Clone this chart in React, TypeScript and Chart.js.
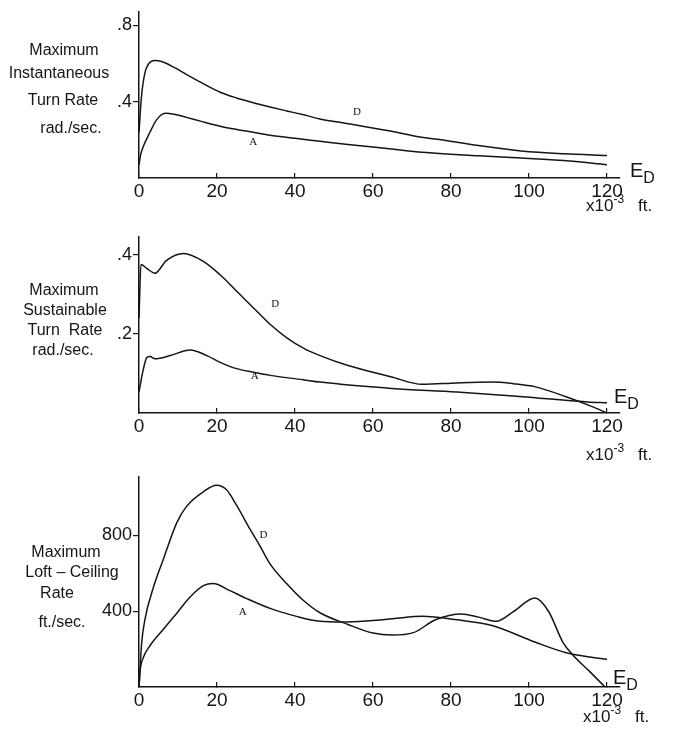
import React, { useEffect, useRef } from "react";
import { Chart, registerables } from "chart.js";
Chart.register(...registerables);

// ---------- shared axis values ----------
const xTickValues = [0, 20, 40, 60, 80, 100, 120];

// ---------- Chart 1: Maximum Instantaneous Turn Rate (rad./sec.) ----------
const instYTicks = [0.4, 0.8];
const instD_x = [0, 0.6, 1.5, 2.5, 4, 6, 9, 12, 16, 20.8, 25, 29.3, 33.6, 37.9, 42.5, 46.4, 53.6, 64.8, 72, 76, 87, 98, 109, 120];
const instD_y = [0.24, 0.42, 0.55, 0.6, 0.617, 0.61, 0.58, 0.545, 0.5, 0.45, 0.42, 0.395, 0.373, 0.352, 0.33, 0.31, 0.285, 0.245, 0.215, 0.205, 0.17, 0.142, 0.127, 0.118];
const instA_x = [0, 0.4, 1.1, 2.8, 4.5, 6.7, 9, 12.2, 16, 20.8, 25, 29.3, 33.6, 40, 46.4, 53.6, 64.8, 72.6, 87, 98, 109, 120];
const instA_y = [0.07, 0.12, 0.165, 0.24, 0.305, 0.34, 0.335, 0.318, 0.297, 0.272, 0.255, 0.24, 0.224, 0.208, 0.193, 0.176, 0.152, 0.135, 0.117, 0.105, 0.092, 0.07];

// ---------- Chart 2: Maximum Sustainable Turn Rate (rad./sec.) ----------
const sustYTicks = [0.2, 0.4];
const sustD_x = [0, 0.5, 2, 4.1, 7, 11.4, 16.5, 20.8, 25, 29.3, 33.6, 37.9, 42.5, 46.4, 53.6, 64.8, 72.6, 81.5, 90.5, 96, 101.7, 109.5, 116.2, 120];
const sustD_y = [0.24, 0.375, 0.365, 0.353, 0.385, 0.403, 0.383, 0.349, 0.308, 0.266, 0.224, 0.19, 0.162, 0.145, 0.12, 0.091, 0.0725, 0.076, 0.078, 0.074, 0.066, 0.041, 0.016, 0.0];
const sustA_x = [0, 1.1, 2, 2.8, 4.1, 8, 13.1, 17.4, 20.8, 25, 29.3, 33.6, 42.1, 46.4, 64.8, 81.5, 98.3, 115, 120];
const sustA_y = [0.053, 0.11, 0.14, 0.143, 0.137, 0.145, 0.159, 0.145, 0.128, 0.112, 0.103, 0.095, 0.084, 0.078, 0.062, 0.053, 0.041, 0.028, 0.026];

// ---------- Chart 3: Maximum Loft-Ceiling Rate (ft./sec.) ----------
const loftYTicks = [400, 800];
const loftD_x = [0, 0.7, 1.5, 3.7, 6.2, 9.7, 12.2, 16.5, 19.9, 22.5, 25, 28.5, 31, 33.6, 37.9, 42.1, 46.4, 53.6, 60, 64.8, 70.4, 76, 82.7, 87.1, 91.6, 96, 101.5, 105, 108.7, 111.3, 115.4, 119.5];
const loftD_y = [0, 236, 355, 527, 672, 868, 954, 1031, 1065, 1040, 960, 832, 745, 650, 545, 458, 392, 330, 285, 274, 287, 355, 386, 369, 347, 398, 470, 400, 236, 168, 85, 0];
const loftA_x = [0, 0.3, 1, 2.8, 6.2, 9.7, 13.1, 16.5, 19, 23.3, 27.6, 33.6, 40.4, 46.4, 52, 59.2, 65, 72.6, 81.5, 90.5, 101.7, 109.5, 115, 120];
const loftA_y = [0, 90, 150, 218, 304, 390, 475, 535, 547, 509, 467, 415, 373, 347, 343, 350, 360, 373, 355, 325, 236, 181, 160, 147];

// curve letters (data coordinates)
const instLetters = [{ t: "D", x: 55.9, y: 0.344 }, { t: "A", x: 29.3, y: 0.19 }];
const sustLetters = [{ t: "D", x: 34.9, y: 0.276 }, { t: "A", x: 29.7, y: 0.093 }];
const loftLetters = [{ t: "D", x: 31.9, y: 800 }, { t: "A", x: 26.6, y: 398 }];

const INK = "#151515";
const FONT = "'Liberation Sans', Arial, sans-serif";

const letterPlugin = {
  id: "curveLetters",
  afterDatasetsDraw(chart: any, _args: any, opts: any) {
    const { ctx, scales } = chart;
    const xs = scales.x, ys = scales.y;
    ctx.save();
    ctx.font = "11px 'Liberation Serif', serif";
    ctx.fillStyle = INK;
    ctx.textAlign = "center";
    ctx.textBaseline = "middle";
    (opts.items || []).forEach((it: any) => {
      ctx.fillText(it.t, xs.getPixelForValue(it.x), ys.getPixelForValue(it.y));
    });
    ctx.restore();
  },
};

function zip(xs: number[], ys: number[]) {
  return xs.map((x, i) => ({ x, y: ys[i] }));
}

type Panel = {
  top: number;
  height: number;
  areaTop: number;
  areaBottom: number;
  yMax: number;
  yTicks: number[];
  fmt: (v: number) => string;
  series: { x: number[]; y: number[] }[];
  letters: { t: string; x: number; y: number }[];
};

const AXIS_LEFT = 139;
const AXIS_RIGHT = 620;
const X120 = 607;
const xMax = (120 * (AXIS_RIGHT - AXIS_LEFT)) / (X120 - AXIS_LEFT);

const panels: Panel[] = [
  {
    top: 0, height: 215, areaTop: 7, areaBottom: 178, yMax: 0.872,
    yTicks: instYTicks, fmt: (v) => "." + Math.round(v * 10),
    series: [{ x: instD_x, y: instD_y }, { x: instA_x, y: instA_y }],
    letters: instLetters,
  },
  {
    top: 225, height: 240, areaTop: 235, areaBottom: 413, yMax: 0.445,
    yTicks: sustYTicks, fmt: (v) => "." + Math.round(v * 10),
    series: [{ x: sustD_x, y: sustD_y }, { x: sustA_x, y: sustA_y }],
    letters: sustLetters,
  },
  {
    top: 465, height: 266, areaTop: 470, areaBottom: 687, yMax: 1110,
    yTicks: loftYTicks, fmt: (v) => String(v),
    series: [{ x: loftD_x, y: loftD_y }, { x: loftA_x, y: loftA_y }],
    letters: loftLetters,
  },
];

function PanelChart({ p }: { p: Panel }) {
  const ref = useRef<HTMLCanvasElement | null>(null);
  useEffect(() => {
    if (!ref.current) return;
    const chart = new Chart(ref.current, {
      type: "line",
      data: {
        datasets: p.series.map((s) => ({
          data: zip(s.x, s.y),
          borderColor: INK,
          borderWidth: 1.5,
          pointRadius: 0,
          fill: false,
          cubicInterpolationMode: "monotone" as const,
        })),
      },
      plugins: [letterPlugin],
      options: {
        animation: false,
        responsive: false,
        devicePixelRatio: 1,
        layout: { padding: { top: p.areaTop - p.top, right: 674 - AXIS_RIGHT, left: 0, bottom: 0 } },
        plugins: {
          legend: { display: false },
          tooltip: { enabled: false },
          curveLetters: { items: p.letters },
        } as any,
        scales: {
          x: {
            type: "linear",
            min: 0,
            max: xMax,
            afterBuildTicks: (s: any) => { s.ticks = xTickValues.map((v) => ({ value: v })); },
            afterFit: (s: any) => { s.height = p.top + p.height - p.areaBottom; },
            border: { display: true, color: INK, width: 1.5 },
            grid: { drawOnChartArea: false, drawTicks: true, tickLength: -5, color: INK, lineWidth: 1.2 },
            ticks: { color: INK, font: { family: FONT, size: 19 }, padding: 7, maxRotation: 0, autoSkip: false, callback: (v: any) => String(v) },
          },
          y: {
            type: "linear",
            min: 0,
            max: p.yMax,
            afterBuildTicks: (s: any) => { s.ticks = p.yTicks.map((v) => ({ value: v })); },
            afterFit: (s: any) => { s.width = AXIS_LEFT; },
            border: { display: true, color: INK, width: 1.5 },
            grid: { drawOnChartArea: false, drawTicks: true, tickLength: 6, color: INK, lineWidth: 1.2 },
            ticks: { color: INK, font: { family: FONT, size: 18 }, padding: 1, callback: (v: any) => p.fmt(Number(v)) },
          },
        },
      } as any,
    });
    return () => chart.destroy();
  }, [p]);
  return (
    <canvas
      ref={ref}
      width={674}
      height={p.height}
      style={{ position: "absolute", left: 0, top: p.top, width: 674, height: p.height, display: "block" }}
    />
  );
}

function Label({ cx, y, text, size = 16 }: { cx: number; y: number; text: string; size?: number }) {
  return (
    <div
      style={{
        position: "absolute", left: cx - 100, width: 200, top: y - size / 2, textAlign: "center",
        fontFamily: FONT, fontSize: size, lineHeight: `${size}px`, color: INK, whiteSpace: "pre",
      }}
    >
      {text}
    </div>
  );
}

function ED({ x, y }: { x: number; y: number }) {
  return (
    <div style={{ position: "absolute", left: x, top: y - 11, fontFamily: FONT, fontSize: 20, lineHeight: "22px", color: INK, whiteSpace: "nowrap" }}>
      E<span style={{ fontSize: 16, position: "relative", top: 6 }}>D</span>
    </div>
  );
}

function Units({ x, y }: { x: number; y: number }) {
  return (
    <div style={{ position: "absolute", left: x, top: y - 10, fontFamily: FONT, fontSize: 17, lineHeight: "20px", color: INK, whiteSpace: "nowrap" }}>
      x10<span style={{ fontSize: 12, position: "relative", top: -8 }}>-3</span>
      <span style={{ marginLeft: 14 }}>ft.</span>
    </div>
  );
}

const leftLabels = [
  { cx: 64, y: 50, text: "Maximum" },
  { cx: 59, y: 73, text: "Instantaneous" },
  { cx: 63, y: 100, text: "Turn Rate" },
  { cx: 71, y: 128, text: "rad./sec." },
  { cx: 64, y: 290, text: "Maximum" },
  { cx: 65, y: 310, text: "Sustainable" },
  { cx: 65, y: 330, text: "Turn  Rate" },
  { cx: 63, y: 350, text: "rad./sec." },
  { cx: 66, y: 552, text: "Maximum" },
  { cx: 72, y: 572, text: "Loft – Ceiling" },
  { cx: 57, y: 593, text: "Rate" },
  { cx: 62, y: 622, text: "ft./sec." },
];

export default function App() {
  return (
    <div style={{ position: "absolute", left: 0, top: 0, width: 674, height: 731, background: "#fff", overflow: "hidden" }}>
      {panels.map((p, i) => (
        <PanelChart key={i} p={p} />
      ))}
      {leftLabels.map((l, i) => (
        <Label key={i} cx={l.cx} y={l.y} text={l.text} />
      ))}
      <ED x={630} y={170} />
      <ED x={614} y={396} />
      <ED x={613} y={677} />
      <Units x={586} y={206} />
      <Units x={586} y={455} />
      <Units x={583} y={717} />
    </div>
  );
}
